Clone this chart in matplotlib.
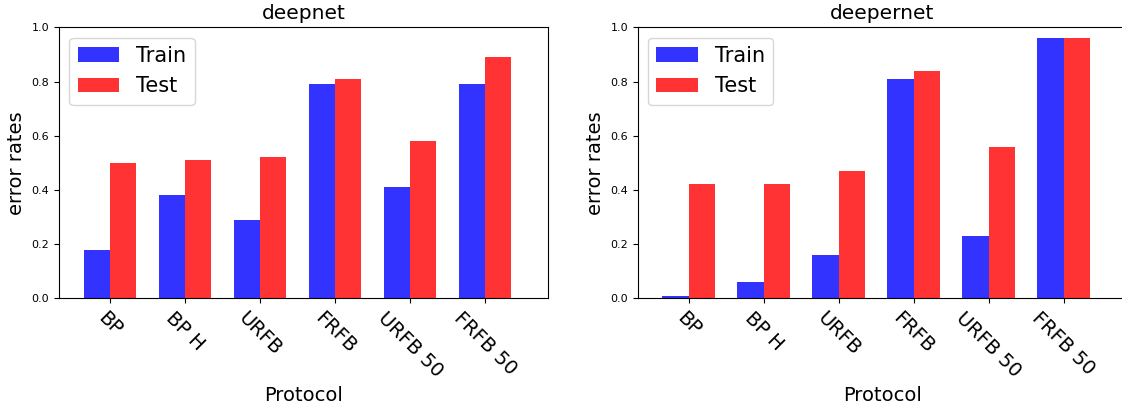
import numpy as np
import matplotlib
matplotlib.use('Agg')
import matplotlib.pyplot as plt

protocols = ['BP', 'BP H', 'URFB', 'FRFB', 'URFB 50', 'FRFB 50']

deepnet_train = [0.18, 0.38, 0.29, 0.79, 0.41, 0.79]
deepnet_test = [0.50, 0.51, 0.52, 0.81, 0.58, 0.89]

deepernet_train = [0.01, 0.06, 0.16, 0.81, 0.23, 0.96]
deepernet_test = [0.42, 0.42, 0.47, 0.84, 0.56, 0.96]

bar_width = 0.35
opacity = 0.8


def plot_errors(ax, train, test, title):
    index = np.arange(len(protocols))
    ax.bar(index, train, bar_width, alpha=opacity, color='b', label='Train')
    ax.bar(index + bar_width, test, bar_width, alpha=opacity, color='r', label='Test')
    ax.set_title(title, fontsize=14.5)
    ax.set_xlabel('Protocol', fontsize=14)
    ax.set_ylabel('error rates', fontsize=14)
    ax.set_xticks(index + bar_width / 2)
    ax.set_xticklabels(protocols, rotation=-45, fontsize=14)
    ax.tick_params(axis='y', labelsize=8)
    ax.set_ylim(0, 1.0)
    ax.set_xlim(-0.505, 6.015)
    ax.legend(loc='upper left', fontsize=15)


fig = plt.figure(figsize=(11.22, 4.07), dpi=100)
ax1 = fig.add_axes([0.0526, 0.2671, 0.4358, 0.6658])
ax2 = fig.add_axes([0.5684, 0.2671, 0.4358, 0.6658])

plot_errors(ax1, deepnet_train, deepnet_test, 'deepnet')
plot_errors(ax2, deepernet_train, deepernet_test, 'deepernet')

fig.savefig('out.png', dpi=100)
